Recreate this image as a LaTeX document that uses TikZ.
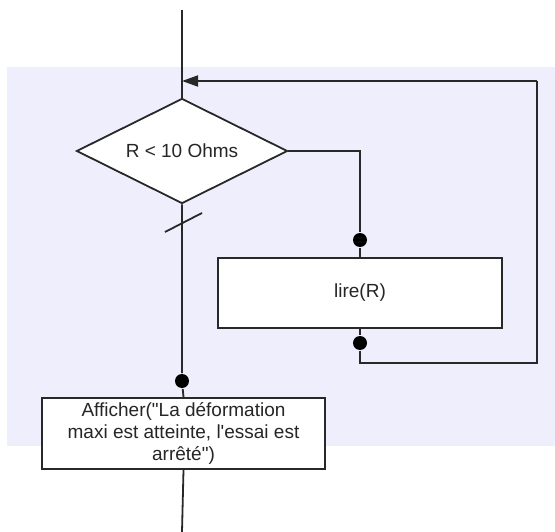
\documentclass[tikz,border=0pt]{standalone}
\usepackage{fontspec}
\setmainfont{Liberation Sans}
\usetikzlibrary{shapes.geometric,arrows.meta}
\definecolor{fondbleu}{RGB}{238,238,252}
\definecolor{trait}{RGB}{40,40,40}
\begin{document}
\begin{tikzpicture}[x=1pt,y=-1pt,line width=1.8pt,
    every node/.style={font=\fontsize{19}{22}\selectfont,text=black!85},
    losange/.style={diamond,aspect=2,draw=trait,fill=white,minimum width=211pt,minimum height=105pt,inner sep=0pt},
    boite/.style={rectangle,draw=trait,fill=white,inner sep=0pt},
    point/.style={circle,fill=black,inner sep=0pt,minimum size=14pt}]

      \useasboundingbox (0,0) rectangle (555,532);
      \fill[fondbleu] (7,67) rectangle (555,446);

      \begin{scope}[draw=trait]
        \coordinate (haut) at (182,10);
        \coordinate (bas)  at (182,532);
        \coordinate (ret)  at (182,81);
        \coordinate (c1)   at (537,81);
        \coordinate (c2)   at (537,363);
        \coordinate (c3)   at (360,363);
        \coordinate (c4)   at (360,151);

        \node[losange] (dec) at (182,151) {R < 10 Ohms};
        \node[boite,minimum width=284pt,minimum height=70pt] (lire) at (360,293) {lire(R)};
        \node[boite,minimum width=283pt,minimum height=71pt,align=center] (aff) at (183.5,433.5)
          {Afficher(\textquotedbl La déformation\\maxi est atteinte, l\textquotesingle essai est\\arrêté\textquotedbl)};

        \node[point] (p1) at (360,240) {};
        \node[point] (p2) at (360,343) {};
        \node[point] (p3) at (182,381) {};

        % fil principal
        \draw (haut) -- (dec.north);
        \draw (dec.south) -- (p3) -- (aff.north);
        \draw (aff.south) -- (bas);
        % branche droite
        \draw (dec.east) -- (c4) -- (p1) -- (lire.north);
        \draw (lire.south) -- (p2) -- (c3) -- (c2) -- (c1);
        \draw[-{Triangle[length=16pt,width=11pt]}] (c1) -- (ret);
        % barre sur la sortie
        \draw (165,232) -- (202,213);
      \end{scope}

    \end{tikzpicture}
\end{document}
